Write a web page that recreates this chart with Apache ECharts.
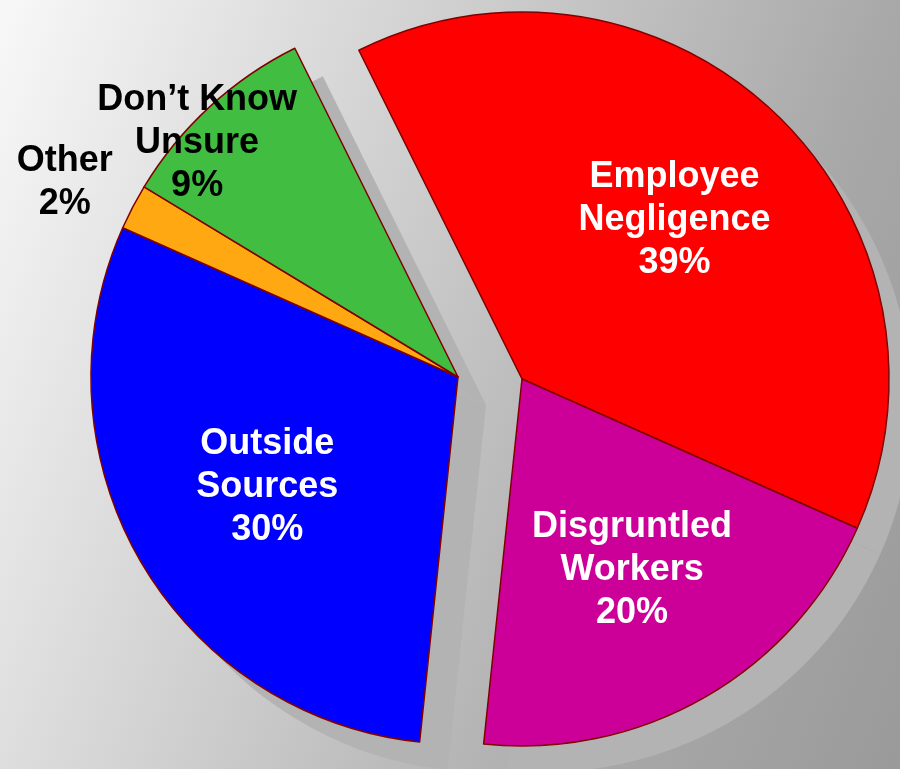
<!DOCTYPE html>
<html>
<head>
<meta charset="utf-8">
<title>Sources of Data Loss</title>
<script src="https://cdn.jsdelivr.net/npm/echarts@6/dist/echarts.min.js"></script>
<style>
  html, body { margin: 0; padding: 0; }
  #chart { width: 900px; height: 769px; }
</style>
</head>
<body>
<div id="chart"></div>
<script>
// Slice names and their shares (percent)
const categories = ['Employee\nNegligence', 'Disgruntled\nWorkers', 'Outside\nSources', 'Other', 'Don\u2019t Know\nUnsure'];
const shares = [39, 20, 30, 2, 9];

// Which half of the split pie each slice belongs to
const groupOf = ['right', 'right', 'left', 'left', 'left'];

// Appearance
const sliceColors = ['#ff0000', '#cc0099', '#0000ff', '#ffa812', '#41be41'];
const labelColors = ['#ffffff', '#ffffff', '#ffffff', '#000000', '#000000'];
// label placement: [fraction of radius, angle shift in degrees]
const labelPlacement = [[0.6, 0], [0.6, 0], [0.6, 0], [1.195, 1.3], [0.955, 5.5]];

const R = 367;
const START = 116.4;
const centers = { right: [522, 379], left: [458, 377] };
const shadowOffsets = { right: [23, 26], left: [28, 28] };

const total = shares.reduce((a, b) => a + b, 0);
const midAngles = [];
let acc = 0;
shares.forEach(v => {
  midAngles.push(START - 360 * (acc + v / 2) / total);
  acc += v;
});

function pieSeries(group, shadow) {
  const c = centers[group];
  const center = shadow ? [c[0] + shadowOffsets[group][0], c[1] + shadowOffsets[group][1]] : c;
  return {
    type: 'pie',
    center: center,
    radius: R,
    startAngle: START,
    clockwise: true,
    silent: true,
    animation: false,
    avoidLabelOverlap: false,
    z: shadow ? 1 : 2,
    emphasis: { disabled: true },
    labelLine: { show: false },
    label: {
      show: !shadow,
      position: 'inside',
      formatter: '{b}\n{c}%',
      fontFamily: 'Liberation Sans, Arial, sans-serif',
      fontWeight: 'bold',
      fontSize: 36,
      lineHeight: 43,
      align: 'center'
    },
    labelLayout: shadow ? null : function (params) {
      const i = params.dataIndex;
      const p = labelPlacement[i];
      const a = (midAngles[i] + p[1]) * Math.PI / 180;
      return {
        x: center[0] + p[0] * R * Math.cos(a),
        y: center[1] - p[0] * R * Math.sin(a),
        align: 'center',
        verticalAlign: 'middle'
      };
    },
    data: categories.map((name, i) => {
      const mine = groupOf[i] === group;
      return {
        name: name,
        value: shares[i],
        itemStyle: mine
          ? (shadow ? { color: '#b3b3b3', borderWidth: 0 }
                    : { color: sliceColors[i], borderColor: '#800000', borderWidth: 1.5 })
          : { color: 'rgba(0,0,0,0)', borderWidth: 0 },
        label: (mine && !shadow) ? { show: true, color: labelColors[i] } : { show: false }
      };
    })
  };
}

const chart = echarts.init(document.getElementById('chart'), null, { renderer: 'canvas' });
chart.setOption({
  animation: false,
  backgroundColor: new echarts.graphic.LinearGradient(0, 0, 1040, 397, [
    { offset: 0, color: '#f8f8f8' },
    { offset: 0.755, color: '#a8a8a8' },
    { offset: 1, color: '#9a9a9a' }
  ], true),
  series: [
    pieSeries('right', true),
    pieSeries('left', true),
    pieSeries('right', false),
    pieSeries('left', false)
  ]
});
</script>
</body>
</html>
